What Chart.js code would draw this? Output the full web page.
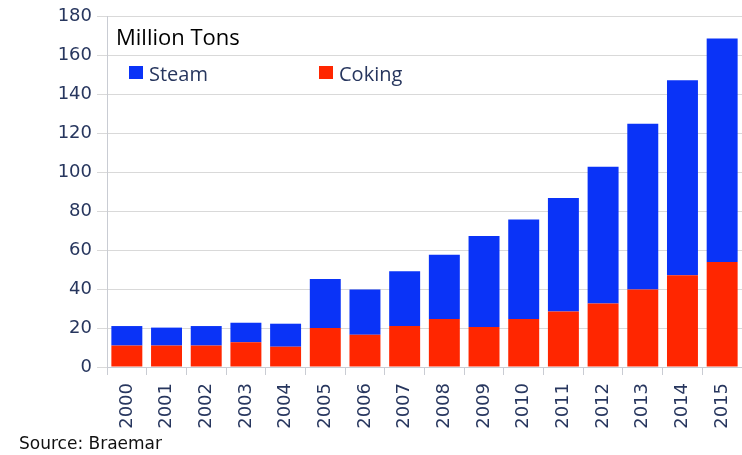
<!DOCTYPE html>
<html>
<head>
<meta charset="utf-8">
<script src="https://cdn.jsdelivr.net/npm/chart.js@4/dist/chart.umd.min.js"></script>
<style>
  html, body { margin: 0; padding: 0; background: #ffffff; }
  #wrap { position: relative; width: 742px; height: 455px; }
  #source { position: absolute; left: 19px; top: 433px; font-family: "DejaVu Sans", sans-serif; font-size: 17px; color: #111; line-height: 20px; white-space: nowrap; }
</style>
</head>
<body>
<div id="wrap">
  <canvas id="c" width="742" height="455"></canvas>
  <div id="source">Source: Braemar</div>
</div>
<script>
const years = ["2000","2001","2002","2003","2004","2005","2006","2007","2008","2009","2010","2011","2012","2013","2014","2015"];
const coking = [11, 11, 11, 12.7, 10.4, 20, 16.6, 21, 24.6, 20.5, 24.6, 28.5, 32.6, 39.8, 47, 53.8];
const steam = [10, 9.2, 10, 10, 11.8, 25.1, 23.2, 28.1, 33, 46.7, 51.1, 58.2, 70.1, 85, 100, 114.7];
const yTicks = [0, 20, 40, 60, 80, 100, 120, 140, 160, 180];
const unitLabel = "Million Tons";

const BLUE = "#0a33f7";
const RED = "#ff2600";
const AXIS_TEXT = "#27365e";

const insideLegend = {
  id: "insideLegend",
  afterDraw(chart) {
    const ctx = chart.ctx;
    const a = chart.chartArea;
    ctx.save();
    ctx.textBaseline = "alphabetic";
    ctx.textAlign = "left";
    ctx.fillStyle = "#000000";
    ctx.font = "22px 'Open Sans', sans-serif";
    ctx.fillText(unitLabel, a.left + 9, 45);
    const order = [1, 0];
    const xs = [a.left + 22, a.left + 212];
    order.forEach((di, k) => {
      const ds = chart.data.datasets[di];
      ctx.fillStyle = ds.backgroundColor;
      ctx.fillRect(xs[k], 66, 14, 13);
      ctx.fillStyle = AXIS_TEXT;
      ctx.font = "20px 'Open Sans', sans-serif";
      ctx.fillText(ds.label, xs[k] + 20, 81);
    });
    ctx.restore();
  }
};

new Chart(document.getElementById("c"), {
  type: "bar",
  data: {
    labels: years,
    datasets: [
      { label: "Coking", data: coking, backgroundColor: RED, barPercentage: 0.78, categoryPercentage: 1.0 },
      { label: "Steam", data: steam, backgroundColor: BLUE, barPercentage: 0.78, categoryPercentage: 1.0 }
    ]
  },
  options: {
    responsive: false,
    animation: false,
    layout: { padding: { top: 16, right: 0, left: 0, bottom: 0 } },
    plugins: { legend: { display: false }, tooltip: { enabled: false } },
    scales: {
      x: {
        stacked: true,
        offset: true,
        grid: { drawOnChartArea: false, drawTicks: true, tickLength: 8, color: "#c9ccd3", offset: true },
        border: { color: "#c9ccd3", width: 1 },
        ticks: { minRotation: 90, maxRotation: 90, padding: 8, color: AXIS_TEXT, font: { family: "'DejaVu Sans', sans-serif", size: 18 } },
        afterFit(scale) { scale.height = 88; scale.paddingRight = 0; scale.paddingLeft = 0; }
      },
      y: {
        stacked: true,
        min: 0,
        max: 180,
        afterBuildTicks(scale) { scale.ticks = yTicks.map(v => ({ value: v })); },
        grid: { color: "#d9d9d9", tickLength: 10, lineWidth: 1 },
        border: { color: "#c9ccd3", width: 1 },
        ticks: { padding: 5, color: AXIS_TEXT, font: { family: "'DejaVu Sans', sans-serif", size: 18 } },
        afterFit(scale) { scale.width = 107; }
      }
    }
  },
  plugins: [insideLegend]
});
</script>
</body>
</html>
